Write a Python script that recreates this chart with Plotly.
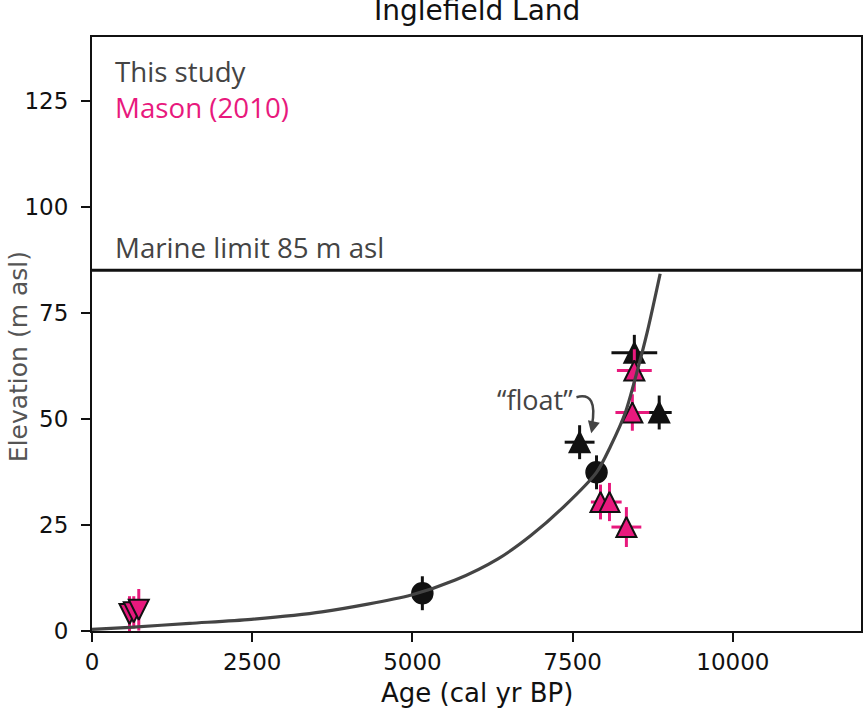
import plotly.graph_objects as go

# ---------------- data ----------------
study_circle_age = [5155, 7873]
study_circle_elev = [8.9, 37.4]
study_circle_age_err = [0, 100]
study_circle_elev_err = [4.0, 4.0]

study_tri_age = [7609, 8463, 8851]
study_tri_elev = [44.5, 65.6, 51.5]
study_tri_age_err = [233, 357, 195]
study_tri_elev_err = [4.0, 4.2, 4.0]

mason_tri_age = [8463, 8432, 7935, 8075, 8339]
mason_tri_elev = [61.4, 51.5, 30.4, 30.4, 24.5]
mason_tri_age_err = [272, 264, 150, 190, 233]
mason_tri_elev_err = [5.0, 4.3, 4.1, 4.5, 4.7]

mason_inv_age = [585, 652, 730]
mason_inv_elev = [4.0, 4.4, 5.0]
mason_inv_elev_err = [4.2, 3.8, 4.9]

curve_age = [0, 590, 1522, 2484, 3587, 4984, 5668, 6335, 6848, 7376, 7873,
             8090, 8323, 8494, 8665, 8866]
curve_elev = [0.4, 0.87, 1.8, 2.75, 4.5, 8.5, 12.0, 17.0, 22.5, 29.5, 37.4,
              43.5, 51.5, 60.5, 70.5, 84.2]

marine_limit = 85
x_ticks = [0, 2500, 5000, 7500, 10000]
y_ticks = [0, 25, 50, 75, 100, 125]

PINK = "#E8197D"
DARK = "#444444"
BLACK = "#111111"

SIZE = 20

fig = go.Figure()

# This study: circles
fig.add_trace(go.Scatter(
    x=study_circle_age, y=study_circle_elev, mode="markers",
    marker=dict(symbol="circle", size=21, color=BLACK, line=dict(color=BLACK, width=1.5)),
    error_x=dict(type="data", array=study_circle_age_err, color=BLACK, thickness=3, width=0),
    error_y=dict(type="data", array=study_circle_elev_err, color=BLACK, thickness=3, width=0),
    showlegend=False, hoverinfo="skip"))

# This study: triangles
fig.add_trace(go.Scatter(
    x=study_tri_age, y=study_tri_elev, mode="markers",
    marker=dict(symbol="arrow-down", angle=180, standoff=SIZE / 2, size=SIZE,
                color=BLACK, line=dict(color=BLACK, width=2)),
    error_x=dict(type="data", array=study_tri_age_err, color=BLACK, thickness=3, width=0),
    error_y=dict(type="data", array=study_tri_elev_err, color=BLACK, thickness=3, width=0),
    showlegend=False, hoverinfo="skip"))

# Mason (2010): inverted triangles
fig.add_trace(go.Scatter(
    x=mason_inv_age, y=mason_inv_elev, mode="markers",
    marker=dict(symbol="arrow-down", angle=0, standoff=SIZE / 2, size=SIZE,
                color=PINK, line=dict(color=BLACK, width=2)),
    error_y=dict(type="data", array=mason_inv_elev_err, color=PINK, thickness=3, width=0),
    showlegend=False, hoverinfo="skip"))

# Mason (2010): triangles
fig.add_trace(go.Scatter(
    x=mason_tri_age, y=mason_tri_elev, mode="markers",
    marker=dict(symbol="arrow-down", angle=180, standoff=SIZE / 2, size=SIZE,
                color=PINK, line=dict(color=BLACK, width=2)),
    error_x=dict(type="data", array=mason_tri_age_err, color=PINK, thickness=3, width=0),
    error_y=dict(type="data", array=mason_tri_elev_err, color=PINK, thickness=3, width=0),
    showlegend=False, hoverinfo="skip"))

# fitted curve
fig.add_trace(go.Scatter(
    x=curve_age, y=curve_elev, mode="lines",
    line=dict(color=DARK, width=3.2, shape="spline", smoothing=0.8),
    showlegend=False, hoverinfo="skip"))

# marine limit line
fig.add_shape(type="line", xref="paper", x0=0, x1=1, yref="y", y0=marine_limit, y1=marine_limit,
              line=dict(color=BLACK, width=3))

# curved arrow for "float"
fig.add_shape(type="path", xref="x", yref="y",
              path="M 7560,55.1 Q 7900,56.5 7800,48.3",
              line=dict(color=DARK, width=2.5))
fig.add_annotation(x=7790, y=46.6, xref="x", yref="y", text="", showarrow=True,
                   ax=2, ay=-9, arrowhead=2, arrowsize=1.1, arrowwidth=2.2, arrowcolor=DARK)

TXT = "Open Sans"
fig.add_annotation(x=7531, y=54.6, xref="x", yref="y", text="\u201cfloat\u201d", showarrow=False,
                   xanchor="right", yanchor="middle", font=dict(family=TXT, size=27, color=DARK))
fig.add_annotation(x=0, xshift=21, y=131.9, xref="paper", yref="y", text="This study", showarrow=False,
                   xanchor="left", yanchor="middle", font=dict(family=TXT, size=27.7, color=DARK))
fig.add_annotation(x=0, xshift=21, y=123.5, xref="paper", yref="y", text="Mason (2010)", showarrow=False,
                   xanchor="left", yanchor="middle", font=dict(family=TXT, size=27.7, color=PINK))
fig.add_annotation(x=0, xshift=21, y=90.4, xref="paper", yref="y", text="Marine limit 85 m asl",
                   showarrow=False, xanchor="left", yanchor="middle",
                   font=dict(family=TXT, size=27.7, color=DARK))

AX = "DejaVu Sans"
# title (partly cut at top as in reference)
fig.add_annotation(x=0.5, y=1, xref="paper", yref="paper", yshift=27, text="Inglefield Land",
                   showarrow=False, xanchor="center", yanchor="middle",
                   font=dict(family=AX, size=28, color=BLACK))
# axis titles
fig.add_annotation(x=0.5, y=0, xref="paper", yref="paper", yshift=-62, text="Age (cal yr BP)",
                   showarrow=False, xanchor="center", yanchor="middle",
                   font=dict(family=AX, size=26, color=BLACK))
fig.add_annotation(x=0, xshift=-74, y=0.461, xref="paper", yref="paper", text="Elevation (m asl)",
                   textangle=-90, showarrow=False, xanchor="center", yanchor="middle",
                   font=dict(family=AX, size=25, color="#555555"))

fig.update_layout(
    width=865, height=710,
    margin=dict(l=92, r=2, t=37, b=79),
    paper_bgcolor="white", plot_bgcolor="white",
    xaxis=dict(range=[0, 12000], tickvals=x_ticks, ticktext=[str(v) for v in x_ticks],
               showgrid=False, zeroline=False, showline=True, mirror=True,
               linecolor=BLACK, linewidth=2, ticks="outside", ticklen=9, tickwidth=1.5,
               tickcolor=BLACK, tickfont=dict(family=AX, size=23, color=BLACK)),
    yaxis=dict(range=[0, 140], tickvals=y_ticks, ticktext=[str(v) for v in y_ticks],
               showgrid=False, zeroline=False, showline=True, mirror=True,
               linecolor=BLACK, linewidth=2, ticks="outside", ticklen=9, tickwidth=1.5,
               tickcolor=BLACK, ticklabelstandoff=8,
               tickfont=dict(family=AX, size=23, color=BLACK)),
)

fig.write_html("out.html")
